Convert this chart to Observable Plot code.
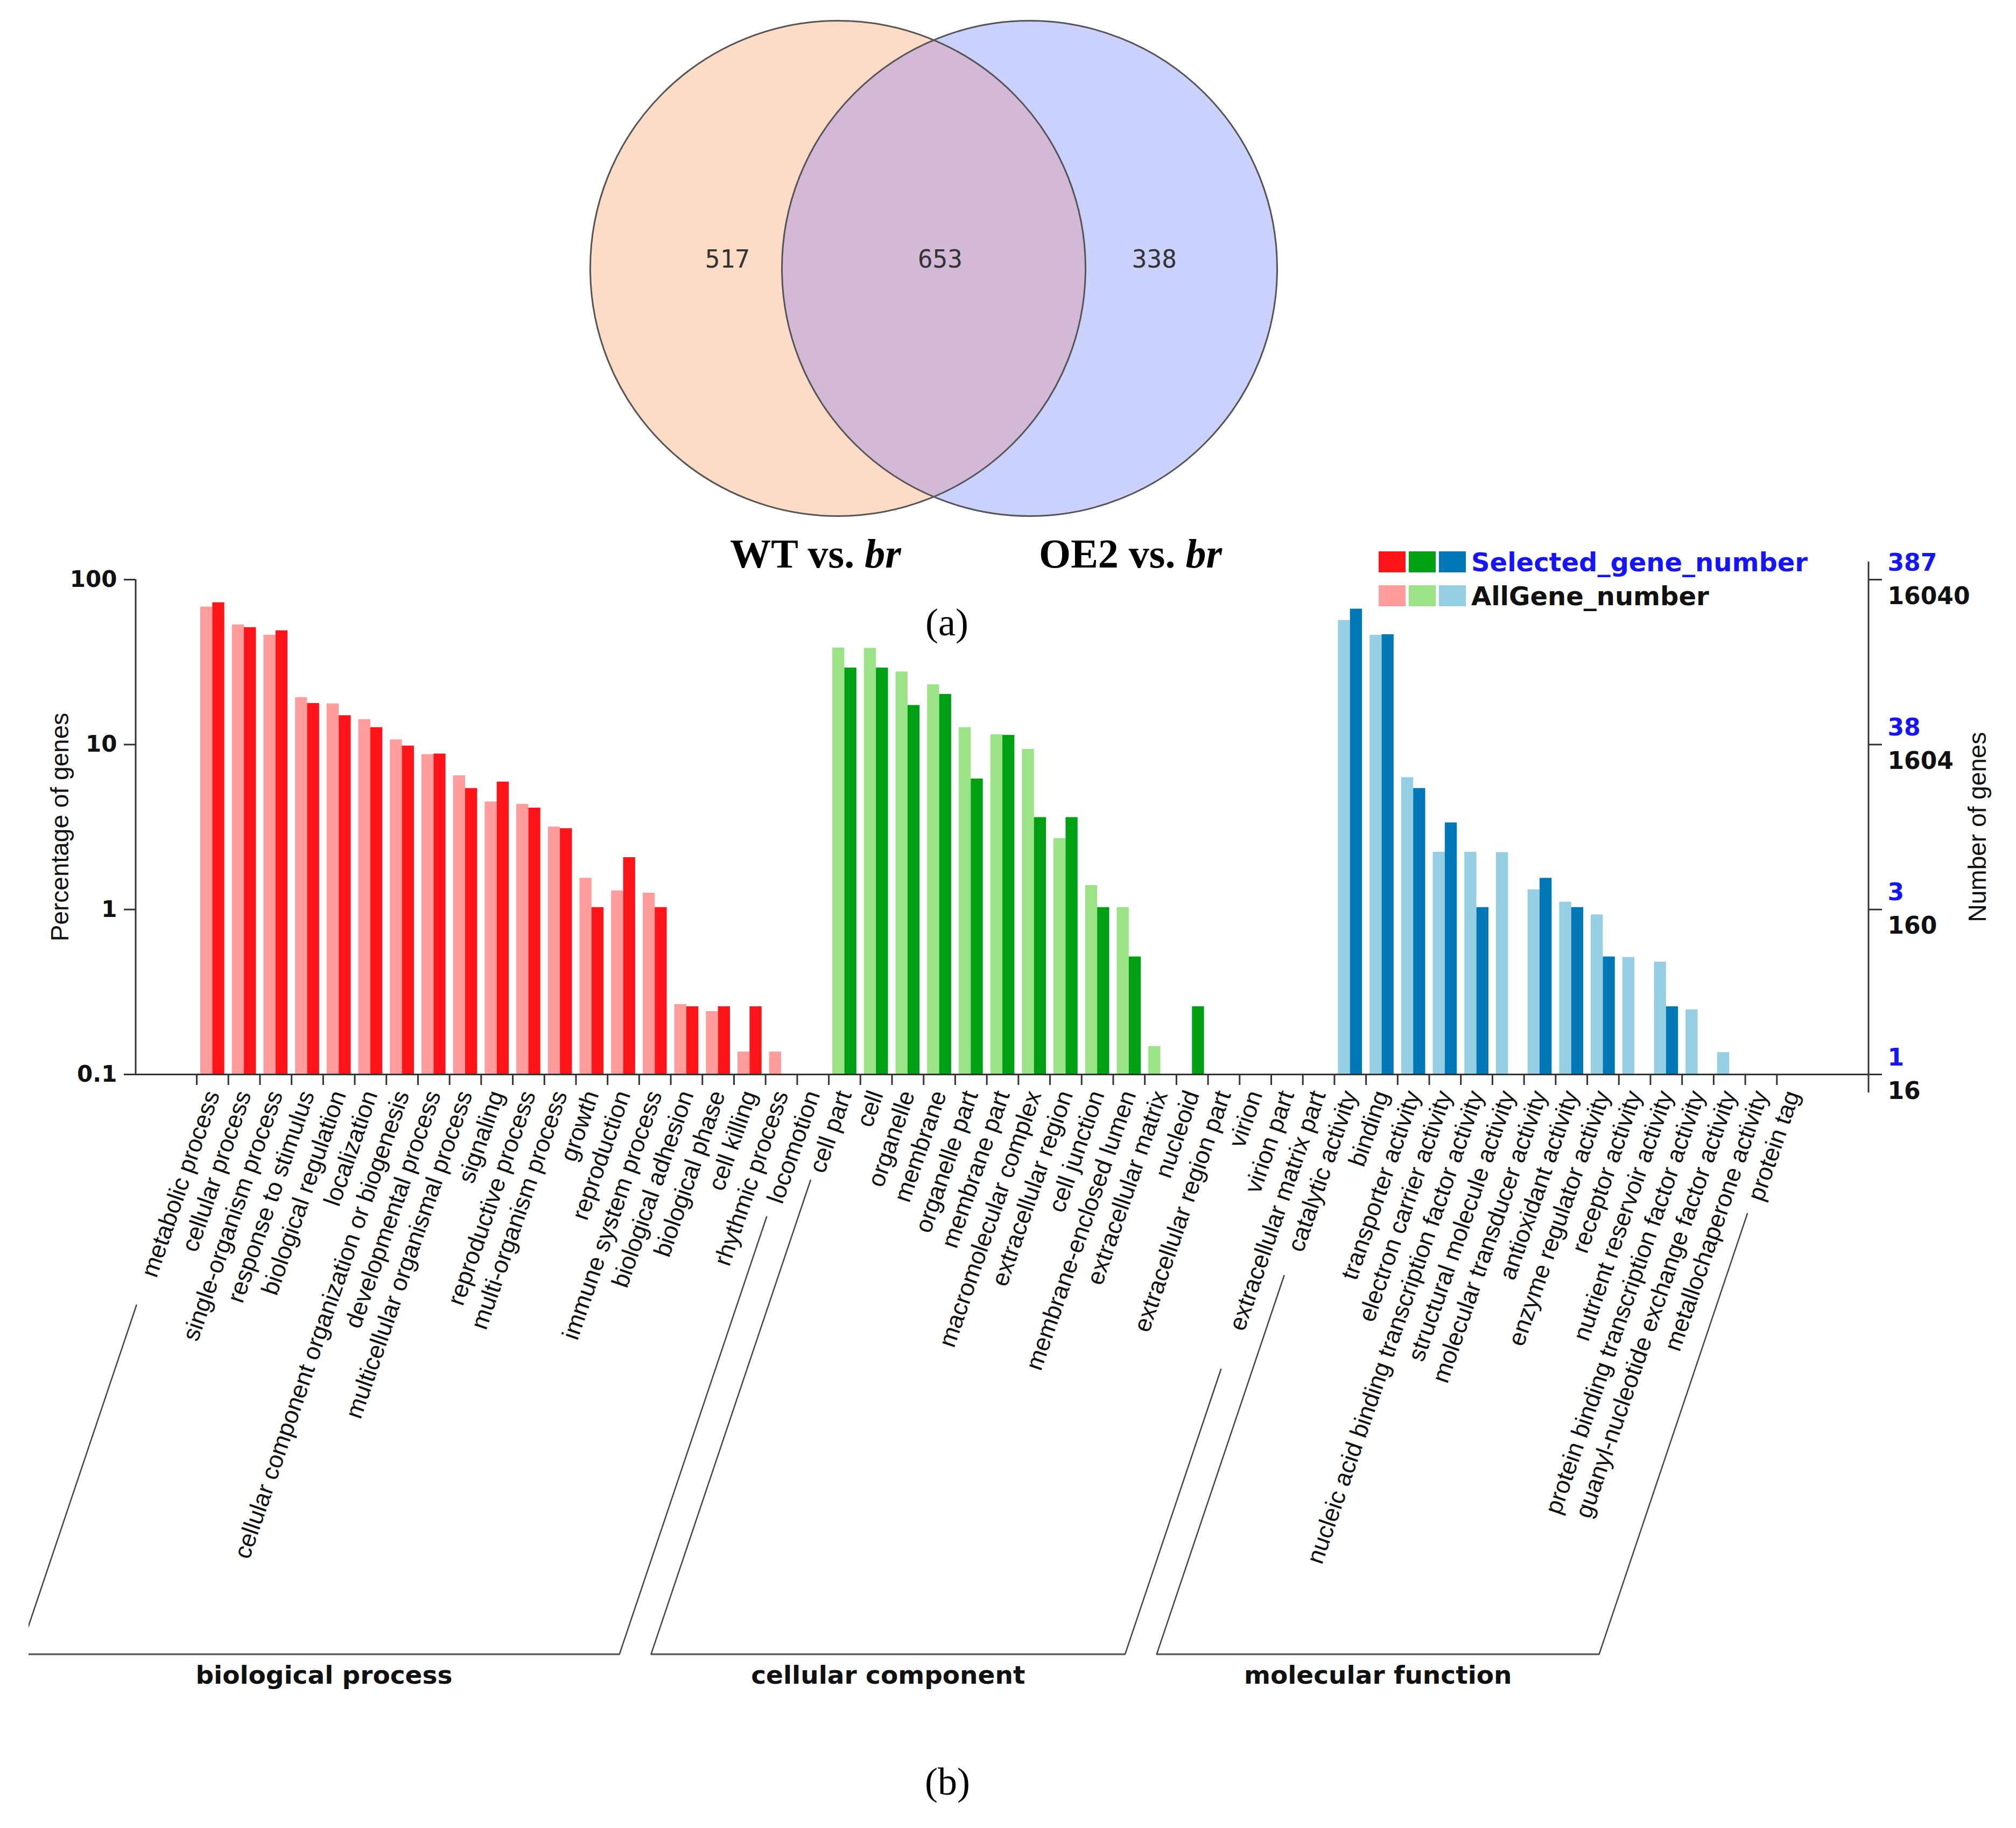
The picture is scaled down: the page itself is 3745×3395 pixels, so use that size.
<!DOCTYPE html>
<html><head><meta charset="utf-8">
<script src="https://cdn.jsdelivr.net/npm/d3@7"></script>
<script src="https://cdn.jsdelivr.net/npm/@observablehq/plot@0.6"></script>
<style>
html,body{margin:0;padding:0;background:#fff;}
#page{position:relative;width:3745px;height:3395px;background:#fff;overflow:hidden;}
.abs{position:absolute;}
</style></head><body><div id="page">
<div id="venn" class="abs" style="left:1080px;top:0px;width:1330px;height:1000px"></div>
<div id="bars" class="abs" style="left:0px;top:1000px;width:3745px;height:2200px"></div>
<svg id="overlay" class="abs" style="left:0;top:0;pointer-events:none" width="3745" height="3395"></svg>
</div>
<script>
// ---------------- DATA ----------------
const vennSets = [
  {name: "WT vs. ", italic: "br", cx: -0.387, cy: 0, fill: "#fcdcc6"},
  {name: "OE2 vs. ", italic: "br", cx: 0.387, cy: 0, fill: "#c9d1fc"}
];
const vennCounts = [
  {label: "517", x: -0.833, y: 0.035},
  {label: "653", x: 0.026, y: 0.035},
  {label: "338", x: 0.891, y: 0.035}
];

const groupNames = ["biological process", "cellular component", "molecular function"];
const groupSizes = [20, 16, 15];

const categories = [
  "metabolic process", "cellular process", "single-organism process", "response to stimulus",
  "biological regulation", "localization", "cellular component organization or biogenesis",
  "developmental process", "multicellular organismal process", "signaling", "reproductive process",
  "multi-organism process", "growth", "reproduction", "immune system process", "biological adhesion",
  "biological phase", "cell killing", "rhythmic process", "locomotion",
  "cell part", "cell", "organelle", "membrane", "organelle part", "membrane part",
  "macromolecular complex", "extracellular region", "cell junction", "membrane-enclosed lumen",
  "extracellular matrix", "nucleoid", "extracellular region part", "virion", "virion part",
  "extracellular matrix part",
  "catalytic activity", "binding", "transporter activity", "electron carrier activity",
  "nucleic acid binding transcription factor activity", "structural molecule activity",
  "molecular transducer activity", "antioxidant activity", "enzyme regulator activity",
  "receptor activity", "nutrient reservoir activity", "protein binding transcription factor activity",
  "guanyl-nucleotide exchange factor activity", "metallochaperone activity", "protein tag"
];

// Percentage of genes (AllGene_number, light bars)
const allGenePct = [
  68.4, 53.3, 46.1, 19.3, 17.7, 14.2, 10.7, 8.72, 6.48, 4.50, 4.35, 3.17, 1.55, 1.30, 1.26, 0.266,
  0.241, 0.137, 0.137, null,
  38.6, 38.4, 27.6, 23.1, 12.7, 11.5, 9.37, 2.70, 1.40, 1.03, 0.148, null, null, null, null, null,
  56.7, 46.1, 6.32, 2.23, 2.23, 2.22, 1.32, 1.11, 0.93, 0.513, 0.481, 0.247, 0.136, null, null
];
// Percentage of genes (Selected_gene_number, dark bars)
const selectedPct = [
  72.6, 51.3, 49.1, 17.8, 15.0, 12.7, 9.82, 8.79, 5.43, 5.94, 4.13, 3.10, 1.03, 2.07, 1.03, 0.258,
  0.258, 0.258, null, null,
  29.2, 29.2, 17.3, 20.2, 6.20, 11.4, 3.62, 3.62, 1.03, 0.517, null, 0.258, null, null, null, null,
  66.4, 46.5, 5.43, 3.36, 1.03, null, 1.55, 1.03, 0.517, null, 0.258, null, null, null, null
];

const yTicks = [0.1, 1, 10, 100];
const yTickLabels = ["0.1", "1", "10", "100"];
const rightSelectedLabels = ["1", "3", "38", "387"];
const rightAllLabels = ["16", "160", "1604", "16040"];

const palette = {
  "biological process": {light: "#ff9c9c", dark: "#ff1419"},
  "cellular component": {light: "#9ce287", dark: "#00a015"},
  "molecular function": {light: "#96cee4", dark: "#0077b6"}
};
const legendRows = [
  {label: "Selected_gene_number", shade: "dark", color: "#1414ff"},
  {label: "AllGene_number", shade: "light", color: "#111"}
];

// ---------------- BUILD ROWS ----------------
const groupOf = [];
groupSizes.forEach((n, g) => { for (let k = 0; k < n; k++) groupOf.push(groupNames[g]); });
const rows = categories.map((cat, i) => ({cat, group: groupOf[i], all: allGenePct[i], sel: selectedPct[i]}));
const rightTicks = yTicks.map((p, i) => ({p, sel: rightSelectedLabels[i], all: rightAllLabels[i]}));

// ---------------- VENN ----------------
const vUnit = 460;
const vW = 1330, vH = 1000, vCx = 654, vCy = 498;
const venn = Plot.plot({
  width: vW, height: vH, margin: 0,
  style: {background: "transparent", overflow: "visible", maxWidth: "none"},
  x: {domain: [-vCx / vUnit, (vW - vCx) / vUnit], range: [0, vW], axis: null},
  y: {domain: [-(vH - vCy) / vUnit, vCy / vUnit], range: [vH, 0], axis: null},
  marks: [
    Plot.dot(vennSets, {x: "cx", y: "cy", r: vUnit, fill: "fill", stroke: "none"}),
    Plot.dot([vennSets[0]], {x: "cx", y: "cy", r: vUnit, fill: "#d4b9d6", stroke: "none"}),
    Plot.dot(vennSets, {x: "cx", y: "cy", r: vUnit, fill: "none", stroke: "#555", strokeWidth: 3}),
    Plot.text(vennCounts, {x: "x", y: "y", text: "label", fontSize: 46, fontFamily: "DejaVu Sans Mono", fill: "#333"})
  ]
});
document.getElementById("venn").appendChild(venn);
(function clipLens() {
  const groups = venn.querySelectorAll("g[aria-label='dot']");
  if (groups.length < 2) return;
  const circs = groups[0].querySelectorAll("circle");
  const lens = groups[1].querySelector("circle");
  if (circs.length < 2 || !lens) return;
  const rc = circs[1];
  const svg = d3.select(venn);
  const defs = svg.insert("defs", ":first-child");
  defs.append("clipPath").attr("id", "rightClip").append("circle")
    .attr("cx", rc.getAttribute("cx")).attr("cy", rc.getAttribute("cy")).attr("r", rc.getAttribute("r") || vUnit);
  lens.setAttribute("clip-path", "url(#rightClip)");
})();

// ---------------- BAR CHART ----------------
const bandStart = 365, bandEnd = 3359;
const bw = (bandEnd - bandStart) / categories.length;
const bars = Plot.plot({
  width: 3745, height: 2200,
  marginTop: 76, marginBottom: 1205, marginLeft: 252, marginRight: 274,
  style: {background: "transparent", overflow: "visible", maxWidth: "none", fontFamily: "Liberation Sans, Arial, sans-serif"},
  x: {type: "band", domain: categories, range: [bandStart, bandEnd], padding: 0},
  y: {type: "log", domain: [0.1, 100]},
  marks: [
    Plot.barY(rows.filter(d => d.all != null), {
      x: "cat", y1: 0.1, y2: "all", fill: d => palette[d.group].light, insetLeft: 7, insetRight: bw / 2
    }),
    Plot.barY(rows.filter(d => d.sel != null), {
      x: "cat", y1: 0.1, y2: "sel", fill: d => palette[d.group].dark, insetLeft: bw / 2, insetRight: 7
    }),
    Plot.ruleY([0.1], {stroke: "#333", strokeWidth: 3}),
    Plot.axisX({tickSize: 20, tickFormat: () => "", dx: -bw / 2, stroke: "#333", strokeWidth: 3, label: null}),
    Plot.axisX({tickSize: 0, tickPadding: 32, tickRotate: -71, fontSize: 45, fontFamily: "Liberation Sans, Arial, sans-serif", fill: "#111", label: null}),
    Plot.axisY({anchor: "left", ticks: yTicks, tickFormat: d => yTickLabels[yTicks.indexOf(d)], tickSize: 22, tickPadding: 13,
      fontSize: 42, fontWeight: "bold", fontFamily: "DejaVu Sans", fill: "#111", stroke: "#333", strokeWidth: 3, label: null}),
    Plot.axisY({anchor: "right", ticks: yTicks, tickFormat: () => "", tickSize: 24, stroke: "#333", strokeWidth: 3, label: null}),
    Plot.text(rightTicks, {y: "p", text: "sel", frameAnchor: "right", dx: 35, dy: -31, textAnchor: "start",
      fill: "#1414ff", fontSize: 44, fontWeight: "bold", fontFamily: "DejaVu Sans"}),
    Plot.text(rightTicks, {y: "p", text: "all", frameAnchor: "right", dx: 35, dy: 31, textAnchor: "start",
      fill: "#111", fontSize: 44, fontWeight: "bold", fontFamily: "DejaVu Sans"}),
    Plot.text(["Percentage of genes"], {frameAnchor: "left", dx: -140, rotate: -90, textAnchor: "middle", lineAnchor: "middle",
      fontSize: 46, fontFamily: "Liberation Sans, Arial, sans-serif", fill: "#111"}),
    Plot.text(["Number of genes"], {frameAnchor: "right", dx: 203, rotate: -90, textAnchor: "middle", lineAnchor: "middle",
      fontSize: 46, fontFamily: "Liberation Sans, Arial, sans-serif", fill: "#111"})
  ]
});
document.getElementById("bars").appendChild(bars);

(function decorate() {
  const xs = bars.scale("x"), ys = bars.scale("y");
  const svg = d3.select(bars);
  const yTop = ys.apply(100), yBot = ys.apply(0.1);
  const xL = 252, xR = 3745 - 274;
  const g = svg.append("g").attr("stroke", "#333").attr("stroke-width", 3).attr("fill", "none");
  g.append("line").attr("x1", xL).attr("x2", xL).attr("y1", yTop).attr("y2", yBot);
  g.append("line").attr("x1", xR).attr("x2", xR).attr("y1", yTop - 33).attr("y2", yBot + 34);

  // group brackets along the label direction
  const k = 1 / Math.tan(71.4 * Math.PI / 180);
  const bandW = xs.bandwidth;
  const lineX = (cat, y) => xs.apply(cat) + bandW / 2 + 3.5 - k * (y - yBot);
  const bracketTops = [[428, 264], [196, 547], [373, 258]];
  const bracketBottom = 1077;
  const clipX = 53;
  svg.insert("defs", ":first-child").append("clipPath").attr("id", "bclip")
    .append("rect").attr("x", clipX).attr("y", 0).attr("width", 3745).attr("height", 2200);
  const bg = svg.append("g").attr("clip-path", "url(#bclip)").attr("fill", "none").attr("stroke", "#444").attr("stroke-width", 2.5);
  const tg = svg.append("g").attr("font-family", "DejaVu Sans").attr("font-weight", "bold").attr("font-size", 47)
    .attr("text-anchor", "middle").attr("fill", "#111");
  let start = 0;
  groupNames.forEach((name, gi) => {
    const first = categories[start], last = categories[start + groupSizes[gi] - 1];
    start += groupSizes[gi];
    const yl = yBot + bracketTops[gi][0], yr = yBot + bracketTops[gi][1], yb = yBot + bracketBottom;
    const p = d3.path();
    p.moveTo(lineX(first, yl), yl);
    p.lineTo(lineX(first, yb), yb);
    p.lineTo(lineX(last, yb), yb);
    p.lineTo(lineX(last, yr), yr);
    bg.append("path").attr("d", p.toString());
    bg.append("line").attr("x1", Math.max(clipX, lineX(first, yb))).attr("x2", lineX(last, yb))
      .attr("y1", yb + 1.5).attr("y2", yb + 1.5).attr("stroke", "#888").attr("stroke-width", 1.5);
    const cx = (Math.max(clipX, lineX(first, yb)) + lineX(last, yb)) / 2;
    tg.append("text").attr("x", cx).attr("y", yb + 55).text(name);
  });
})();

// ---------------- CAPTIONS & LEGEND ----------------
(function overlay() {
  const ov = d3.select("#overlay");
  const titleX = [1515, 2100];
  vennSets.forEach((s, i) => {
    const t = ov.append("text").attr("x", titleX[i]).attr("y", 1054).attr("text-anchor", "middle")
      .attr("font-family", "Liberation Serif, Times New Roman, serif").attr("font-weight", "bold").attr("font-size", 76).attr("fill", "#000");
    t.append("tspan").text(s.name);
    t.append("tspan").attr("font-style", "italic").text(s.italic);
  });
  ov.append("text").attr("x", 1759).attr("y", 1180).attr("text-anchor", "middle")
    .attr("font-family", "Liberation Serif, Times New Roman, serif").attr("font-size", 72).attr("fill", "#000").text("(a)");
  ov.append("text").attr("x", 1760).attr("y", 3333).attr("text-anchor", "middle")
    .attr("font-family", "Liberation Serif, Times New Roman, serif").attr("font-size", 72).attr("fill", "#000").text("(b)");

  const swX = [2561, 2617, 2673], swW = 50, rowY = [1024, 1087], rowH = 39;
  legendRows.forEach((r, ri) => {
    groupNames.forEach((gname, gi) => {
      ov.append("rect").attr("x", swX[gi]).attr("y", rowY[ri]).attr("width", swW).attr("height", rowH)
        .attr("fill", palette[gname][r.shade]);
    });
    ov.append("text").attr("x", 2733).attr("y", rowY[ri] + rowH / 2).attr("dy", "0.36em")
      .attr("font-family", "DejaVu Sans").attr("font-weight", "bold").attr("font-size", 48)
      .attr("fill", r.color).text(r.label);
  });
})();
</script>
</body></html>
